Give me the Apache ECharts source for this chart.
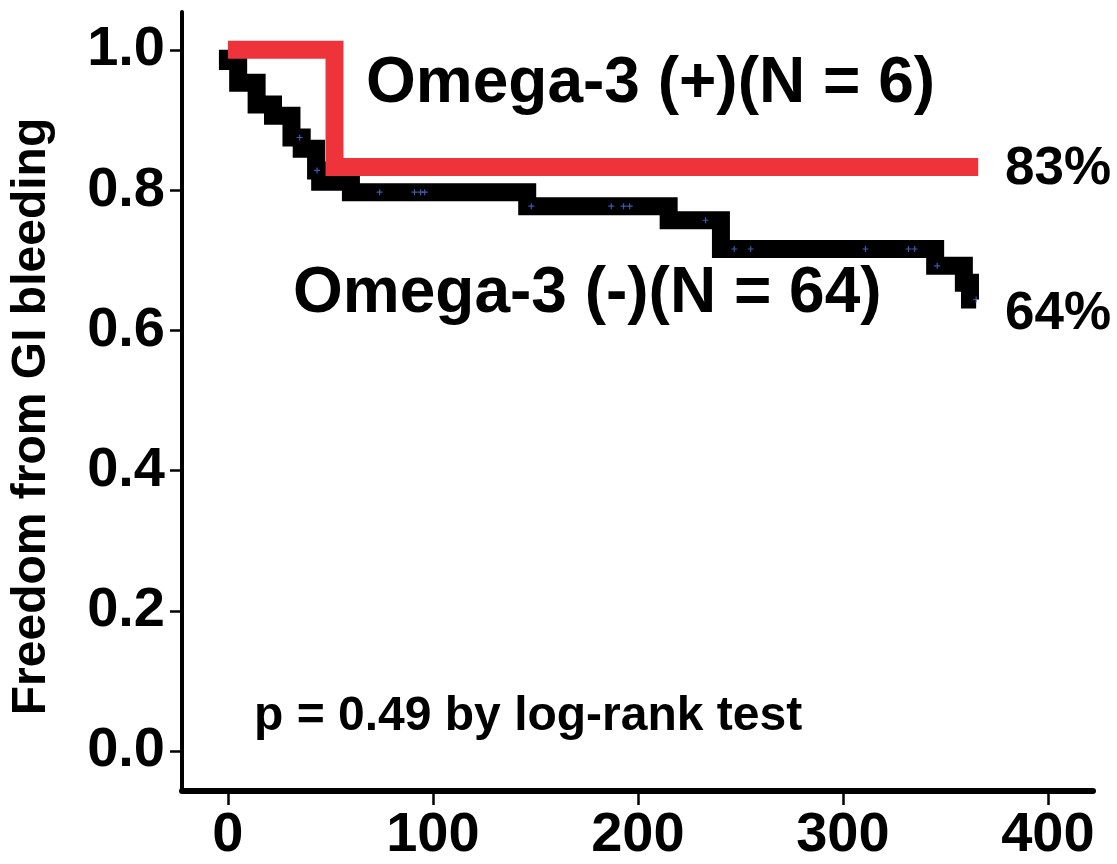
<!DOCTYPE html>
<html>
<head>
<meta charset="utf-8">
<script src="https://cdn.jsdelivr.net/npm/echarts@6/dist/echarts.min.js"></script>
<style>
  html, body { margin: 0; padding: 0; background: #fff; }
  #chart { width: 1117px; height: 864px; }
</style>
</head>
<body>
<div id="chart"></div>
<script>
// ---- Data ----
const xTicks = [0, 100, 200, 300, 400];
const yTicks = [0, 0.2, 0.4, 0.6, 0.8, 1.0];

// Omega-3 (-) Kaplan-Meier step points (day, survival)
const negDays = [0, 0, 5, 14, 22, 31, 36, 43, 45, 60, 146, 215, 240.5, 345, 359, 362, 365];
const negSurv = [1, 0.984, 0.953, 0.922, 0.906, 0.875, 0.859, 0.828, 0.812, 0.797, 0.777, 0.757, 0.716, 0.692, 0.668, 0.644, 0.644];

// Omega-3 (+) Kaplan-Meier step points
const posDays = [0, 52, 366];
const posSurv = [1, 0.833, 0.833];

// Censored observations on the Omega-3 (-) curve
const negCensorDays = [35, 43.5, 74, 91, 94, 96, 148, 187, 193, 196, 233, 247, 255, 311, 332, 335, 346, 365];
const negCensorSurv = [0.875, 0.828, 0.797, 0.797, 0.797, 0.797, 0.777, 0.777, 0.777, 0.777, 0.757, 0.716, 0.716, 0.716, 0.716, 0.716, 0.692, 0.644];

const labelPos = "Omega-3 (+)(N = 6)";
const labelNeg = "Omega-3 (-)(N = 64)";
const pctPos = "83%";
const pctNeg = "64%";
const pText = "p = 0.49 by log-rank test";
const yTitle = "Freedom from GI bleeding";

// ---- Build ----
const zip = (a, b) => a.map((v, i) => [v, b[i]]);
const FONT = '"Liberation Sans", Arial, sans-serif';

const chart = echarts.init(document.getElementById('chart'), null, { renderer: 'canvas' });

const option = {
  backgroundColor: '#fff',
  animation: false,
  grid: { left: 182, right: 24, top: 12, bottom: 69, containLabel: false },
  xAxis: {
    type: 'value',
    min: -22.4, max: 422,
    splitLine: { show: false },
    axisLine: { show: true, onZero: false, lineStyle: { color: '#000', width: 6 } },
    axisTick: { show: true, customValues: xTicks, length: 14, lineStyle: { color: '#000', width: 2.5 } },
    axisLabel: { show: true, customValues: xTicks, margin: 17, color: '#000', fontFamily: FONT, fontWeight: 'bold', fontSize: 56 }
  },
  yAxis: {
    type: 'value',
    min: -0.057, max: 1.054,
    splitLine: { show: false },
    axisLine: { show: true, onZero: false, lineStyle: { color: '#000', width: 4 } },
    axisTick: { show: true, customValues: yTicks, length: 12, lineStyle: { color: '#000', width: 2.5 } },
    axisLabel: { show: true, customValues: yTicks, margin: 17, color: '#000', fontFamily: FONT, fontWeight: 'bold', fontSize: 56,
      formatter: v => v.toFixed(1) },
    name: yTitle,
    nameLocation: 'middle',
    nameRotate: 90,
    nameGap: 126,
    nameTextStyle: { color: '#000', fontFamily: FONT, fontWeight: 'bold', fontSize: 48, padding: [0, 30, 0, 0] }
  },
  series: [
    {
      name: 'Omega-3 (-)',
      type: 'line',
      step: 'end',
      data: zip(negDays, negSurv),
      showSymbol: false,
      symbol: 'none',
      lineStyle: { color: '#000', width: 18, cap: 'butt', join: 'miter' },
      z: 2
    },
    {
      name: 'censor (-)',
      type: 'scatter',
      data: zip(negCensorDays, negCensorSurv),
      symbol: 'path://M4,0H6V4H10V6H6V10H4V6H0V4H4Z',
      symbolSize: 6,
      itemStyle: { color: '#4d6fd8' },
      z: 3
    },
    {
      name: 'Omega-3 (+)',
      type: 'line',
      step: 'end',
      data: zip(posDays, posSurv),
      showSymbol: false,
      symbol: 'none',
      lineStyle: { color: '#ef333b', width: 18, cap: 'butt', join: 'miter' },
      z: 4
    }
  ],
  graphic: [
    { type: 'text', left: 368, top: 84, style: { text: labelPos, fill: '#000', font: 'bold 64px ' + FONT, verticalAlign: 'middle' } },
    { type: 'text', x: 293, y: 294, style: { text: labelNeg, fill: '#000', font: 'bold 64px ' + FONT, verticalAlign: 'middle' } },
    { type: 'text', x: 1005, y: 169, style: { text: pctPos, fill: '#000', font: 'bold 53px ' + FONT, verticalAlign: 'middle' } },
    { type: 'text', x: 1005, y: 314, style: { text: pctNeg, fill: '#000', font: 'bold 53px ' + FONT, verticalAlign: 'middle' } },
    { type: 'text', x: 254, y: 717, style: { text: pText, fill: '#000', font: 'bold 48px ' + FONT, verticalAlign: 'middle' } }
  ]
};
option.graphic[0] = { type: 'text', x: 366, y: 84, style: { text: labelPos, fill: '#000', font: 'bold 64px ' + FONT, verticalAlign: 'middle' } };

chart.setOption(option);
</script>
</body>
</html>
